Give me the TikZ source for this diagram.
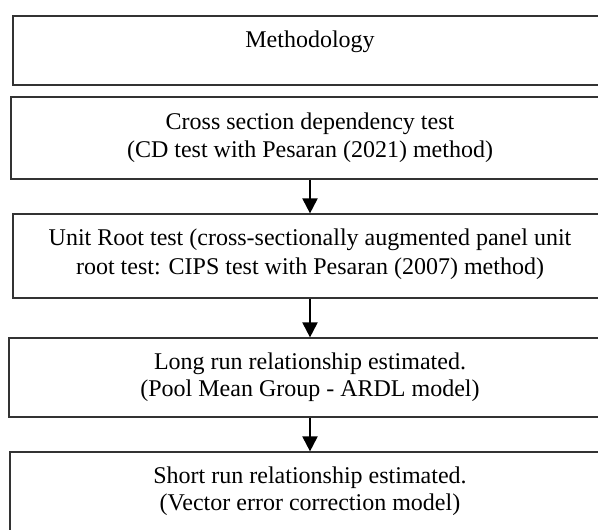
\documentclass[tikz,border=0pt]{standalone}
\usepackage{fontspec}
\setmainfont{Liberation Serif}
\usetikzlibrary{arrows.meta}
\begin{document}
\begin{tikzpicture}[x=0.5pt,y=-0.5pt,
  box/.style={draw=black!80,line width=0.6pt,rectangle,inner sep=0pt},
  txt/.style={anchor=base,inner sep=0pt,font=\fontsize{12pt}{14pt}\selectfont},
  arr/.style={line width=1pt,-{Triangle[width=7.5pt,length=7.5pt]}}]
\useasboundingbox (0,0) rectangle (598,529);
\clip (0,0) rectangle (598,529);
\node[box,minimum width=297pt,minimum height=34.5pt] (b1) at (310,50.5) {};
\node[box,minimum width=299pt,minimum height=41pt] (b2) at (310,138) {};
\node[box,minimum width=297pt,minimum height=42pt] (b3) at (310,256) {};
\node[box,minimum width=301pt,minimum height=39.5pt] (b4) at (310,377.5) {};
\node[box,minimum width=300pt,minimum height=40pt] (b5) at (310,492) {};
\node[txt] (t1) at (310,48) {Methodology};
\node[txt] (t2a) at (310,129.3) {Cross section dependency test};
\node[txt] (t2b) at (310,157.3) {(CD test with Pesaran (2021) method)};
\node[txt] (t3a) at (310,245.5) {Unit Root test (cross-sectionally augmented panel unit};
\node[txt] (t3b) at (310,274) {root test: CIPS test with Pesaran (2007) method)};
\node[txt] (t4a) at (310,369.5) {Long run relationship estimated.};
\node[txt] (t4b) at (310,396.7) {(Pool Mean Group - ARDL model)};
\node[txt] (t5a) at (310,483.5) {Short run relationship estimated.};
\node[txt] (t5b) at (310,510) {(Vector error correction model)};
\draw[arr] (b2.south) -- (b3.north);
\draw[arr] (b3.south) -- (b4.north);
\draw[arr] (b4.south) -- (b5.north);
\end{tikzpicture}
\end{document}
